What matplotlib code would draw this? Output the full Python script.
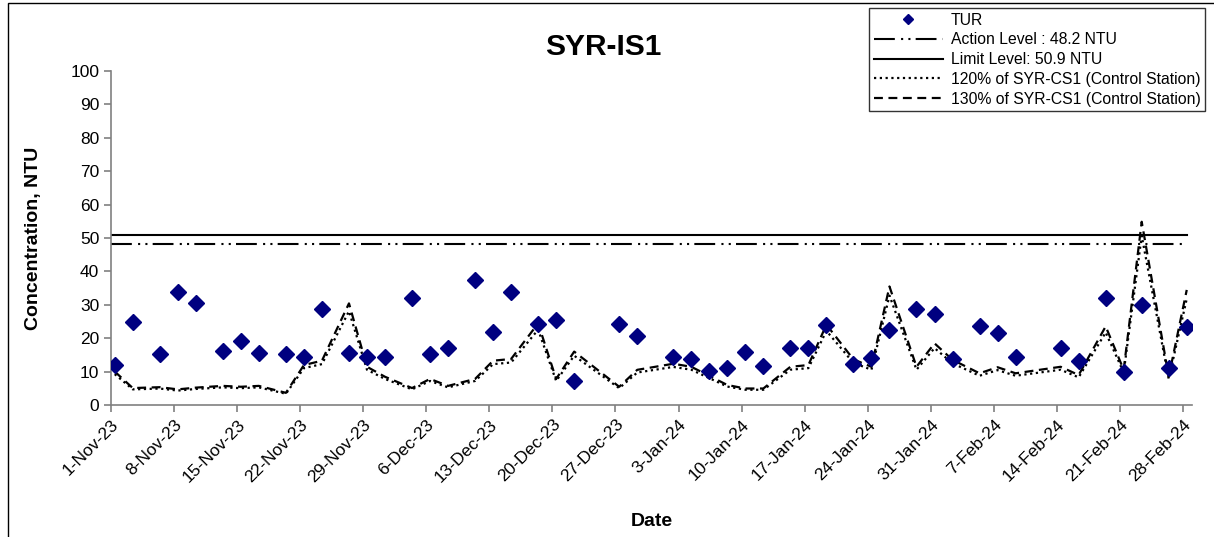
import datetime as dt
import numpy as np
import matplotlib
matplotlib.use("Agg")
import matplotlib.pyplot as plt
import matplotlib.dates as mdates
from matplotlib.patches import Rectangle
from matplotlib.ticker import FuncFormatter

plt.rcParams["font.family"] = ["Liberation Sans", "DejaVu Sans"]

# Sampling dates (days after 1-Nov-23, sampled mid-morning)
START = dt.datetime(2023, 11, 1)
SAMPLE_HOUR = 10
sample_days = [0, 2, 5, 7, 9, 12, 14, 16, 19, 21,
               23, 26, 28, 30, 33, 35, 37, 40, 42, 44,
               47, 49, 51, 56, 58, 62, 64, 66, 68, 70,
               72, 75, 77, 79, 82, 84, 86, 89, 91, 93,
               96, 98, 100, 105, 107, 110, 112, 114, 117, 119]

# Turbidity at SYR-IS1 (NTU)
tur = [12.0, 24.9, 15.3, 33.8, 30.5, 16.2, 19.2, 15.6, 15.3, 14.4,
       28.7, 15.6, 14.4, 14.4, 32.0, 15.3, 17.1, 37.4, 21.9, 33.8,
       24.3, 25.4, 7.2, 24.3, 20.7, 14.4, 13.8, 10.2, 11.1, 15.9,
       11.7, 17.1, 17.1, 24.0, 12.3, 14.1, 22.5, 28.7, 27.2, 13.8,
       23.7, 21.6, 14.4, 17.1, 13.2, 32.0, 9.9, 29.9, 11.1, 23.4]

# Turbidity at control station SYR-CS1 (NTU)
cs1 = [7.7, 3.9, 4.1, 3.6, 4.0, 4.4, 4.2, 4.4, 2.8, 9.2,
       10.2, 23.4, 8.8, 6.5, 3.9, 6.0, 4.4, 6.0, 10.2, 10.6,
       18.8, 6.0, 12.3, 4.2, 8.1, 9.5, 8.8, 6.7, 4.6, 3.8,
       3.8, 8.8, 9.2, 18.5, 10.5, 8.8, 27.3, 8.8, 14.2, 10.4,
       7.3, 8.7, 7.3, 8.8, 6.9, 18.1, 8.1, 42.2, 6.5, 26.5]

ACTION_LEVEL = 48.2
LIMIT_LEVEL = 50.9


def main() -> None:
    dates = [START + dt.timedelta(days=d, hours=SAMPLE_HOUR) for d in sample_days]
    cs1_arr = np.array(cs1)

    W, H = 1214, 537
    fig = plt.figure(figsize=(W / 100, H / 100), dpi=100)
    ax = fig.add_axes([111 / W, (H - 405) / H, (1192 - 111) / W, (405 - 71) / H])

    dash_dot_dot = (0, (10, 3, 1, 2.5, 1, 2.5))
    line_span = [START, dates[-1]]

    ax.plot(dates, tur, linestyle="none", marker="D", markersize=8,
            color="#000080", label="TUR", zorder=5)
    ax.plot(line_span, [ACTION_LEVEL] * 2, color="black", lw=1.5,
            linestyle=dash_dot_dot, label="Action Level : 48.2 NTU")
    ax.plot(line_span, [LIMIT_LEVEL] * 2, color="black", lw=1.5,
            label="Limit Level: 50.9 NTU")
    ax.plot(dates, cs1_arr * 1.2, color="black", lw=1.6, linestyle=(0, (1, 1.6)),
            label="120% of SYR-CS1 (Control Station)")
    ax.plot(dates, cs1_arr * 1.3, color="black", lw=1.6, linestyle=(0, (4, 2.5)),
            label="130% of SYR-CS1 (Control Station)")

    ax.set_ylim(0, 100)
    ax.set_yticks(np.arange(0, 101, 10))
    ax.set_xlim(START, START + dt.timedelta(days=120))
    ax.set_xticks([START + dt.timedelta(days=7 * i) for i in range(18)])
    ax.xaxis.set_major_formatter(FuncFormatter(
        lambda x, pos: "{}-{}".format(mdates.num2date(x).day,
                                      mdates.num2date(x).strftime("%b-%y"))))

    for side in ("top", "right"):
        ax.spines[side].set_visible(False)
    for side in ("left", "bottom"):
        ax.spines[side].set_color("#808080")
        ax.spines[side].set_linewidth(1.2)
    ax.tick_params(axis="both", direction="out", length=5, width=1.2,
                   color="#808080", labelsize=12.5, labelcolor="black")
    plt.setp(ax.get_xticklabels(), rotation=45, ha="right", rotation_mode="anchor")

    ax.set_ylabel("Concentration, NTU", fontsize=14, fontweight="bold", labelpad=20)
    ax.set_xlabel("Date", fontsize=14, fontweight="bold", labelpad=20)
    fig.text(603 / W, 1 - 47 / H, "SYR-IS1", fontsize=21.5, fontweight="bold",
             ha="center", va="center")

    leg = fig.legend(loc="upper right", bbox_to_anchor=(1205 / W, 1 - 8 / H),
                     borderaxespad=0, fontsize=11.3, frameon=True, fancybox=False,
                     edgecolor="black", handlelength=4.4, markerscale=0.6,
                     borderpad=0.3, labelspacing=0.3, handletextpad=0.5)
    leg.get_frame().set_linewidth(1.0)

    # chart area border (only top and left edges fall inside the image)
    fig.add_artist(Rectangle((8 / W, -0.1), 1.2, 1.1 - 3 / H, transform=fig.transFigure,
                             fill=False, edgecolor="black", lw=1.0, clip_on=False))

    fig.savefig("out.png", dpi=100)


if __name__ == "__main__":
    main()
